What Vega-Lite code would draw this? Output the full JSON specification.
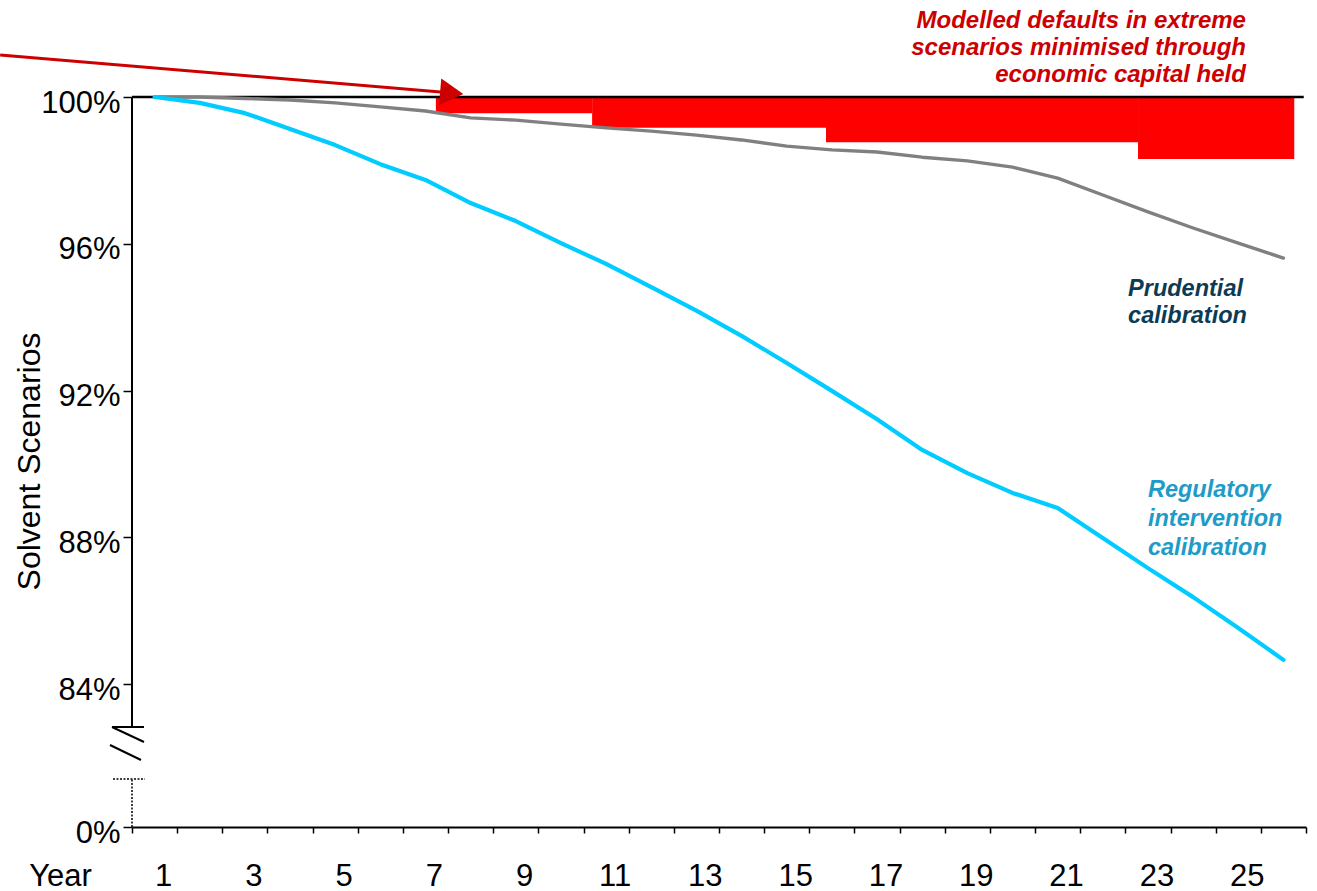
{
  "$schema": "https://vega.github.io/schema/vega-lite/v6.json",
  "width": 1174,
  "height": 827,
  "autosize": {"type": "none"},
  "padding": {"left": 132, "top": 0, "right": 11, "bottom": 64},
  "background": "white",
  "config": {"view": {"stroke": null}, "font": "Liberation Sans"},
  "datasets": {
    "curves": [
      {"year": 1, "series": "Prudential calibration", "share": 100.0},
      {"year": 2, "series": "Prudential calibration", "share": 100.0},
      {"year": 3, "series": "Prudential calibration", "share": 99.96},
      {"year": 4, "series": "Prudential calibration", "share": 99.92},
      {"year": 5, "series": "Prudential calibration", "share": 99.84},
      {"year": 6, "series": "Prudential calibration", "share": 99.73},
      {"year": 7, "series": "Prudential calibration", "share": 99.62},
      {"year": 8, "series": "Prudential calibration", "share": 99.43},
      {"year": 9, "series": "Prudential calibration", "share": 99.37},
      {"year": 10, "series": "Prudential calibration", "share": 99.26},
      {"year": 11, "series": "Prudential calibration", "share": 99.16},
      {"year": 12, "series": "Prudential calibration", "share": 99.07},
      {"year": 13, "series": "Prudential calibration", "share": 98.96},
      {"year": 14, "series": "Prudential calibration", "share": 98.83},
      {"year": 15, "series": "Prudential calibration", "share": 98.66},
      {"year": 16, "series": "Prudential calibration", "share": 98.56},
      {"year": 17, "series": "Prudential calibration", "share": 98.5},
      {"year": 18, "series": "Prudential calibration", "share": 98.36},
      {"year": 19, "series": "Prudential calibration", "share": 98.26},
      {"year": 20, "series": "Prudential calibration", "share": 98.09},
      {"year": 21, "series": "Prudential calibration", "share": 97.79},
      {"year": 22, "series": "Prudential calibration", "share": 97.33},
      {"year": 23, "series": "Prudential calibration", "share": 96.87},
      {"year": 24, "series": "Prudential calibration", "share": 96.43},
      {"year": 25, "series": "Prudential calibration", "share": 96.02},
      {"year": 26, "series": "Prudential calibration", "share": 95.61},
      {"year": 1, "series": "Regulatory intervention calibration", "share": 100.0},
      {"year": 2, "series": "Regulatory intervention calibration", "share": 99.84},
      {"year": 3, "series": "Regulatory intervention calibration", "share": 99.56},
      {"year": 4, "series": "Regulatory intervention calibration", "share": 99.13},
      {"year": 5, "series": "Regulatory intervention calibration", "share": 98.69},
      {"year": 6, "series": "Regulatory intervention calibration", "share": 98.17},
      {"year": 7, "series": "Regulatory intervention calibration", "share": 97.74},
      {"year": 8, "series": "Regulatory intervention calibration", "share": 97.11},
      {"year": 9, "series": "Regulatory intervention calibration", "share": 96.62},
      {"year": 10, "series": "Regulatory intervention calibration", "share": 96.02},
      {"year": 11, "series": "Regulatory intervention calibration", "share": 95.45},
      {"year": 12, "series": "Regulatory intervention calibration", "share": 94.82},
      {"year": 13, "series": "Regulatory intervention calibration", "share": 94.18},
      {"year": 14, "series": "Regulatory intervention calibration", "share": 93.49},
      {"year": 15, "series": "Regulatory intervention calibration", "share": 92.75},
      {"year": 16, "series": "Regulatory intervention calibration", "share": 91.99},
      {"year": 17, "series": "Regulatory intervention calibration", "share": 91.22},
      {"year": 18, "series": "Regulatory intervention calibration", "share": 90.38},
      {"year": 19, "series": "Regulatory intervention calibration", "share": 89.75},
      {"year": 20, "series": "Regulatory intervention calibration", "share": 89.21},
      {"year": 21, "series": "Regulatory intervention calibration", "share": 88.8},
      {"year": 22, "series": "Regulatory intervention calibration", "share": 87.98},
      {"year": 23, "series": "Regulatory intervention calibration", "share": 87.16},
      {"year": 24, "series": "Regulatory intervention calibration", "share": 86.37},
      {"year": 25, "series": "Regulatory intervention calibration", "share": 85.53},
      {"year": 26, "series": "Regulatory intervention calibration", "share": 84.66}
    ],
    "capitalHeld": [
      {"from": 7.23, "to": 10.69, "high": 100, "low": 99.56},
      {"from": 10.69, "to": 15.87, "high": 100, "low": 99.16},
      {"from": 15.87, "to": 22.78, "high": 100, "low": 98.77},
      {"from": 22.78, "to": 26.24, "high": 100, "low": 98.31}
    ],
    "fullSolvency": [{"from": 0.5, "to": 26.45, "share": 100}],
    "axisSolid": [
      {"x1": 0.5, "y1": 82.83, "x2": 0.5, "y2": 100},
      {"x1": 0.057, "y1": 82.83, "x2": 0.766, "y2": 82.83},
      {"x1": 0.057, "y1": 82.83, "x2": 0.766, "y2": 70.41},
      {"x1": 0.013, "y1": 67.92, "x2": 0.699, "y2": 55.5}
    ],
    "axisDotted": [
      {"x1": 0.079, "y1": 39.76, "x2": 0.788, "y2": 39.76},
      {"x1": 0.5, "y1": 0, "x2": 0.5, "y2": 39.76}
    ],
    "pointer": [{"fromYear": -2.42, "fromShare": 101.145, "toYear": 7.4, "toShare": 100.13, "headYear": 7.58, "headShare": 100.11}],
    "noteCapital": [{"year": 25.17, "share": 101.88, "text": "Modelled defaults in extreme\nscenarios minimised through\neconomic capital held"}],
    "notePrudential": [{"year": 22.56, "share": 94.58, "text": "Prudential\ncalibration"}],
    "noteRegulatory": [{"year": 23.0, "share": 89.1, "text": "Regulatory\nintervention\ncalibration"}]
  },
  "layer": [
    {
      "data": {"name": "capitalHeld"},
      "mark": {"type": "rect", "color": "#FF0000"},
      "encoding": {
        "x": {
          "field": "from", "type": "quantitative",
          "scale": {"domain": [0.5, 26.5], "nice": false, "zero": false},
          "axis": {
            "values": [0.5, 1.5, 2.5, 3.5, 4.5, 5.5, 6.5, 7.5, 8.5, 9.5, 10.5, 11.5, 12.5, 13.5, 14.5, 15.5, 16.5, 17.5, 18.5, 19.5, 20.5, 21.5, 22.5, 23.5, 24.5, 25.5, 26.5],
            "labelExpr": "((datum.value + 0.5) % 2 == 1 && datum.value < 25) ? '' + (datum.value + 0.5) : ''",
            "labelOffset": 31,
            "labelFont": "Liberation Sans", "labelFontSize": 31, "labelColor": "black",
            "labelBaseline": "alphabetic", "labelPadding": 52,
            "labelFlush": false, "labelOverlap": false, "labelBound": false,
            "grid": false,
            "domain": true, "domainColor": "black", "domainWidth": 2,
            "ticks": true, "tickSize": 6, "tickColor": "black", "tickWidth": 1.5,
            "title": "Year", "titleFont": "Liberation Sans", "titleFontSize": 31, "titleFontWeight": "normal", "titleColor": "black",
            "titleX": -72, "titleY": 58, "titleAlign": "center", "titleBaseline": "alphabetic"
          }
        },
        "x2": {"field": "to"},
        "y": {
          "field": "high", "type": "quantitative",
          "scale": {"domain": [0, 82.83, 102.644], "range": [827, 727, 0], "nice": false, "zero": false},
          "axis": {
            "values": [0, 84, 88, 92, 96, 100],
            "labelExpr": "datum.value + '%'",
            "labelFont": "Liberation Sans", "labelFontSize": 31, "labelColor": "black",
            "labelPadding": 3, "labelBaseline": "middle", "labelOffset": 6,
            "labelOverlap": false, "labelBound": false, "labelFlush": false,
            "grid": false, "domain": false,
            "ticks": true, "tickSize": 9, "tickColor": "black", "tickWidth": 1.5,
            "title": "Solvent Scenarios", "titleFont": "Liberation Sans", "titleFontSize": 32, "titleFontWeight": "normal", "titleColor": "black",
            "titleAngle": -90, "titleX": -93, "titleY": 461, "titleAlign": "center", "titleBaseline": "alphabetic"
          }
        },
        "y2": {"field": "low"}
      }
    },
    {
      "data": {"name": "fullSolvency"},
      "mark": {"type": "rule", "color": "black", "strokeWidth": 2.5},
      "encoding": {
        "x": {"field": "from", "type": "quantitative", "scale": {"domain": [0.5, 26.5], "nice": false, "zero": false}},
        "x2": {"field": "to"},
        "y": {"field": "share", "type": "quantitative", "scale": {"domain": [0, 82.83, 102.644], "range": [827, 727, 0], "nice": false, "zero": false}}
      }
    },
    {
      "data": {"name": "curves"},
      "mark": {"type": "line", "strokeJoin": "round", "strokeCap": "round"},
      "encoding": {
        "x": {"field": "year", "type": "quantitative", "scale": {"domain": [0.5, 26.5], "nice": false, "zero": false}},
        "y": {"field": "share", "type": "quantitative", "scale": {"domain": [0, 82.83, 102.644], "range": [827, 727, 0], "nice": false, "zero": false}},
        "color": {
          "field": "series", "type": "nominal",
          "scale": {"domain": ["Prudential calibration", "Regulatory intervention calibration"], "range": ["#808080", "#00CCFF"]},
          "legend": null
        },
        "strokeWidth": {
          "field": "series", "type": "nominal",
          "scale": {"domain": ["Prudential calibration", "Regulatory intervention calibration"], "range": [3.4, 4.2]},
          "legend": null
        }
      }
    },
    {
      "data": {"name": "axisSolid"},
      "mark": {"type": "rule", "color": "black", "strokeWidth": 2},
      "encoding": {
        "x": {"field": "x1", "type": "quantitative", "scale": {"domain": [0.5, 26.5], "nice": false, "zero": false}},
        "x2": {"field": "x2"},
        "y": {"field": "y1", "type": "quantitative", "scale": {"domain": [0, 82.83, 102.644], "range": [827, 727, 0], "nice": false, "zero": false}},
        "y2": {"field": "y2"}
      }
    },
    {
      "data": {"name": "axisDotted"},
      "mark": {"type": "rule", "color": "black", "strokeWidth": 1.5, "strokeDash": [2, 1.5]},
      "encoding": {
        "x": {"field": "x1", "type": "quantitative", "scale": {"domain": [0.5, 26.5], "nice": false, "zero": false}},
        "x2": {"field": "x2"},
        "y": {"field": "y1", "type": "quantitative", "scale": {"domain": [0, 82.83, 102.644], "range": [827, 727, 0], "nice": false, "zero": false}},
        "y2": {"field": "y2"}
      }
    },
    {
      "data": {"name": "pointer"},
      "mark": {"type": "rule", "color": "#CC0000", "strokeWidth": 3},
      "encoding": {
        "x": {"field": "fromYear", "type": "quantitative", "scale": {"domain": [0.5, 26.5], "nice": false, "zero": false}},
        "x2": {"field": "toYear"},
        "y": {"field": "fromShare", "type": "quantitative", "scale": {"domain": [0, 82.83, 102.644], "range": [827, 727, 0], "nice": false, "zero": false}},
        "y2": {"field": "toShare"}
      }
    },
    {
      "data": {"name": "pointer"},
      "mark": {"type": "point", "shape": "triangle-right", "filled": true, "color": "#CC0000", "opacity": 1, "size": 720, "angle": 5},
      "encoding": {
        "x": {"field": "headYear", "type": "quantitative", "scale": {"domain": [0.5, 26.5], "nice": false, "zero": false}},
        "y": {"field": "headShare", "type": "quantitative", "scale": {"domain": [0, 82.83, 102.644], "range": [827, 727, 0], "nice": false, "zero": false}}
      }
    },
    {
      "data": {"name": "noteCapital"},
      "mark": {"type": "text", "align": "right", "baseline": "alphabetic", "lineBreak": "\n", "lineHeight": 27, "font": "Liberation Sans", "fontSize": 24, "fontWeight": "bold", "fontStyle": "italic", "color": "#CC0000"},
      "encoding": {
        "x": {"field": "year", "type": "quantitative", "scale": {"domain": [0.5, 26.5], "nice": false, "zero": false}},
        "y": {"field": "share", "type": "quantitative", "scale": {"domain": [0, 82.83, 102.644], "range": [827, 727, 0], "nice": false, "zero": false}},
        "text": {"field": "text"}
      }
    },
    {
      "data": {"name": "notePrudential"},
      "mark": {"type": "text", "align": "left", "baseline": "alphabetic", "lineBreak": "\n", "lineHeight": 27, "font": "Liberation Sans", "fontSize": 23.5, "fontWeight": "bold", "fontStyle": "italic", "color": "#0D3B55"},
      "encoding": {
        "x": {"field": "year", "type": "quantitative", "scale": {"domain": [0.5, 26.5], "nice": false, "zero": false}},
        "y": {"field": "share", "type": "quantitative", "scale": {"domain": [0, 82.83, 102.644], "range": [827, 727, 0], "nice": false, "zero": false}},
        "text": {"field": "text"}
      }
    },
    {
      "data": {"name": "noteRegulatory"},
      "mark": {"type": "text", "align": "left", "baseline": "alphabetic", "lineBreak": "\n", "lineHeight": 29, "font": "Liberation Sans", "fontSize": 23.5, "fontWeight": "bold", "fontStyle": "italic", "color": "#1E9BC8"},
      "encoding": {
        "x": {"field": "year", "type": "quantitative", "scale": {"domain": [0.5, 26.5], "nice": false, "zero": false}},
        "y": {"field": "share", "type": "quantitative", "scale": {"domain": [0, 82.83, 102.644], "range": [827, 727, 0], "nice": false, "zero": false}},
        "text": {"field": "text"}
      }
    }
  ]
}
